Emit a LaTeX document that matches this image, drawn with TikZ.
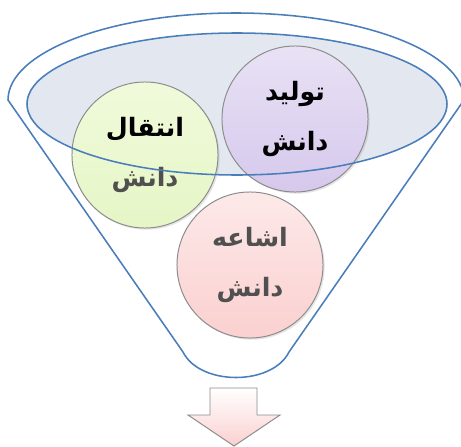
\documentclass[tikz,border=0pt]{standalone}
\usepackage{fontspec}
\usepackage{tikz}
\usetikzlibrary{shadows}
\newfontfamily\arabicfont[Script=Arabic]{DejaVu Sans}
\TeXXeTstate=1
\definecolor{funnelblue}{HTML}{4A7EBB}
\definecolor{rimfill}{HTML}{E3E8F0}
\definecolor{ringgray}{HTML}{8C8C8C}
\definecolor{txtgray}{HTML}{505050}
\definecolor{greentop}{HTML}{F0FADB}
\definecolor{greenbot}{HTML}{E6F6C6}
\definecolor{violettop}{HTML}{E9E2F5}
\definecolor{violetbot}{HTML}{D6C8EC}
\definecolor{pinktop}{HTML}{FDE9E9}
\definecolor{pinkbot}{HTML}{FBD0D0}
\newcommand{\fa}[1]{{\arabicfont\bfseries\beginR #1\endR}}
\tikzset{ball/.style={circle,draw=ringgray,line width=0.7pt,minimum size=3.65cm,
  inner sep=0pt,align=center,font=\fontsize{18}{35}\selectfont,
  drop shadow={opacity=0.2,shadow xshift=1.2pt,shadow yshift=-1.2pt}},
  rim/.style={draw=funnelblue,line width=1.1pt}}
\begin{document}
\begin{tikzpicture}[x=0.025cm,y=-0.025cm]
 \useasboundingbox (0,0) rectangle (461,447);
 % funnel body
 \draw[rim,fill=white] (8,100) arc[start angle=180,end angle=360,x radius=228,y radius=87]
   -- (289,352) .. controls (272,386) and (200,386) .. (183,352) -- cycle;
 \fill[rimfill] (237,104) ellipse[x radius=210,y radius=71];
 % the three circles
 \node[ball,top color=greentop,bottom color=greenbot] (move) at (145,155)
  {\fa{انتقال}\\\textcolor{txtgray}{\fa{دانش}}};
 \node[ball,top color=violettop,bottom color=violetbot] (make) at (295,119)
  {\fa{تولید}\\\fa{دانش}};
 \node[ball,top color=pinktop,bottom color=pinkbot,text=txtgray] (spread) at (250,265)
  {\fa{اشاعه}\\\fa{دانش}};
 \draw[rim] (237,104) ellipse[x radius=210,y radius=71];
 % output arrow
 \draw[draw=ringgray,line width=0.7pt,top color=white,bottom color=pinkbot]
  (210,388) -- (257,388) -- (257,415) -- (280,415) -- (234,446) -- (188,415) -- (210,415) -- cycle;
\end{tikzpicture}
\end{document}
